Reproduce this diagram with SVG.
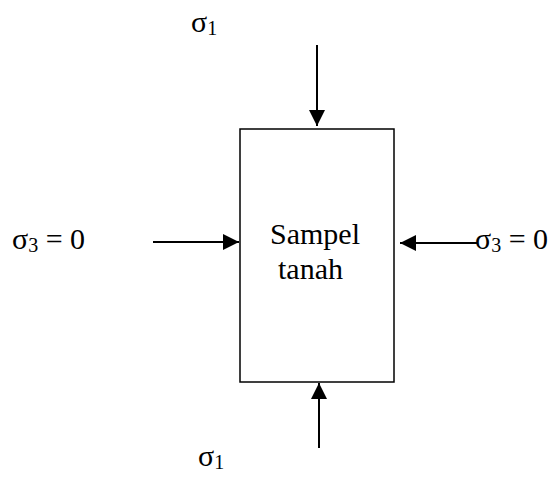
<svg xmlns="http://www.w3.org/2000/svg" width="555" height="478" viewBox="0 0 555 478">
<style>
text{font-family:"Liberation Serif","Times New Roman",serif;font-size:30px;fill:#000}
.sub{font-size:20px}
.ln{stroke:#000;stroke-width:2;fill:none}
</style>
<defs>
<marker id="ah" viewBox="0 0 16 16" refX="16" refY="8" markerWidth="16" markerHeight="16" markerUnits="userSpaceOnUse" orient="auto"><path d="M0,0L16,8L0,16Z" fill="#000"/></marker>
</defs>
<rect width="555" height="478" fill="#fff"/>
<g id="sample">
<rect x="240" y="129" width="154" height="253" fill="#fff" stroke="#000" stroke-width="1.5"/>
<text x="270" y="244">Sampel</text>
<text x="278" y="279">tanah</text>
</g>
<g id="connectors">
<line class="ln" x1="317" y1="45" x2="317" y2="126" marker-end="url(#ah)"/>
<line class="ln" x1="319" y1="448" x2="319" y2="383" marker-end="url(#ah)"/>
<line class="ln" x1="153" y1="242" x2="239" y2="242" marker-end="url(#ah)"/>
<line class="ln" x1="477" y1="243" x2="400" y2="243" marker-end="url(#ah)"/>
</g>
<g id="label-top"><text x="191" y="32">σ<tspan class="sub" dy="3">1</tspan></text></g>
<g id="label-bottom"><text x="198" y="466">σ<tspan class="sub" dy="3">1</tspan></text></g>
<g id="label-left"><text x="12" y="249">σ<tspan class="sub" dy="3">3</tspan><tspan dy="-3"> = 0</tspan></text></g>
<g id="label-right"><text x="475" y="249">σ<tspan class="sub" dy="3">3</tspan><tspan dy="-3"> = 0</tspan></text></g>
</svg>
